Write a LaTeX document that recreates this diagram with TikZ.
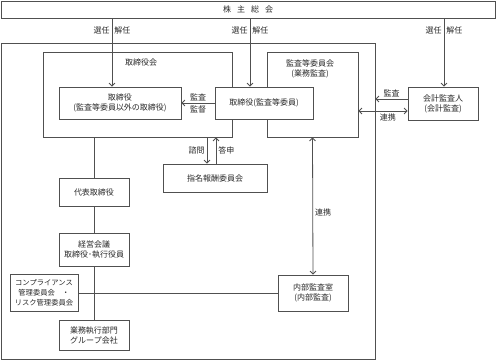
\documentclass[tikz,border=0pt]{standalone}
\usepackage{fontspec}
\usepackage{tikz}
\usetikzlibrary{positioning, arrows.meta}
\newfontfamily\jpfont{Noto Sans CJK JP}
\definecolor{LineGray}{RGB}{80, 80, 80}
\definecolor{TextGray}{RGB}{40, 40, 40}

\begin{document}
\begin{tikzpicture}[x=1pt, y=-1pt,
    font=\jpfont\fontsize{8pt}{10pt}\selectfont, text=TextGray,
    box/.style={draw=LineGray, line width=0.8pt, inner sep=0pt, align=center},
    arr/.style={draw=LineGray, line width=0.8pt, -{Straight Barb[length=3pt, width=6pt]}},
    dblarr/.style={draw=LineGray, line width=0.8pt, {Straight Barb[length=3pt, width=6pt]}-{Straight Barb[length=3pt, width=6pt]}},
    link/.style={draw=LineGray, line width=0.8pt},
    lbl/.style={inner sep=2pt}]
    \useasboundingbox (0,0) rectangle (496,360);

    % Frames
    \node[box, minimum width=374pt, minimum height=316pt] (company) at (188,201) {};
    \node[box, minimum width=494pt, minimum height=17pt] (soukai) at (248,9.5) {株\hspace{6pt}主\hspace{6pt}総\hspace{6pt}会};
    \node[box, minimum width=189pt, minimum height=85pt] (board) at (137.5,94.5) {};
    \node[box, minimum width=91pt, minimum height=85pt] (auditcomm) at (312.5,94.5) {};
    \node (boardtitle) at (141,62) {取締役会};
    \node[align=center] (commtitle) at (310,69) {監査等委員会\\(業務監査)};

    % Boxes
    \node[box, minimum width=122pt, minimum height=32pt] (director) at (120,103) {取締役\\(監査等委員以外の取締役)};
    \node[box, fill=white, minimum width=98pt, minimum height=32pt] (auditdir) at (264,103) {取締役(監査等委員)};
    \node[box, minimum width=70pt, minimum height=33pt] (accountant) at (443,103.5) {会計監査人\\(会計監査)};
    \node[box, minimum width=104pt, minimum height=28pt] (nomination) at (215,178) {指名報酬委員会};
    \node[box, minimum width=70pt, minimum height=28pt] (rep) at (94,192) {代表取締役};
    \node[box, minimum width=70pt, minimum height=33pt] (mgmt) at (94,249.5) {経営会議\\取締役･執行役員};
    \node[box, font=\jpfont\fontsize{7.3pt}{10pt}\selectfont, minimum width=68pt, minimum height=37pt] (compliance) at (44,292.5) {コンプライアンス\\管理委員会　・\\リスク管理委員会};
    \node[box, minimum width=70pt, minimum height=30pt] (business) at (94,335) {業務執行部門\\グループ会社};
    \node[box, minimum width=70pt, minimum height=36pt] (internal) at (313,293) {内部監査室\\(内部監査)};

    % Election
    \draw[arr] (soukai.south -| 112,0) -- node[lbl, pos=0.17, left] (senA) {選任} node[lbl, pos=0.17, right] (kaiA) {解任} (director.north -| 112,0);
    \draw[arr] (soukai.south -| 250,0) -- node[lbl, pos=0.17, left] (senB) {選任} node[lbl, pos=0.17, right] (kaiB) {解任} (auditdir.north -| 250,0);
    \draw[arr] (soukai.south -| 444,0) -- node[lbl, pos=0.17, left] (senC) {選任} node[lbl, pos=0.17, right] (kaiC) {解任} (accountant.north -| 444,0);

    % Audit
    \draw[arr] (auditdir.west) -- node[lbl, above] (kansaA) {監査} node[lbl, below] (kantoku) {監督} (director.east);
    \draw[arr] (accountant.west |- 0,99) -- node[lbl, above] (kansaB) {監査} (company.east |- 0,99);
    \draw[dblarr] (auditcomm.east |- 0,111) -- node[lbl, pos=0.6, below] (renkeiA) {連携} (accountant.west |- 0,111);
    \draw[dblarr] (auditcomm.south) -- node[lbl, pos=0.55, right] (renkeiB) {連携} (internal.north);

    % Nomination
    \draw[arr] (board.south -| 207,0) -- node[lbl, midway, left] (shimon) {諮問} (nomination.north -| 207,0);
    \draw[arr] (nomination.north -| 216,0) -- node[lbl, midway, right] (toushin) {答申} (board.south -| 216,0);

    % Execution
    \draw[link] (rep.north |- board.south) -- (rep.north);
    \draw[link] (rep.south) -- (mgmt.north);
    \draw[link] (mgmt.south) -- (business.north);
    \draw[link] (compliance.east |- internal.west) -- (internal.west);
\end{tikzpicture}
\end{document}
